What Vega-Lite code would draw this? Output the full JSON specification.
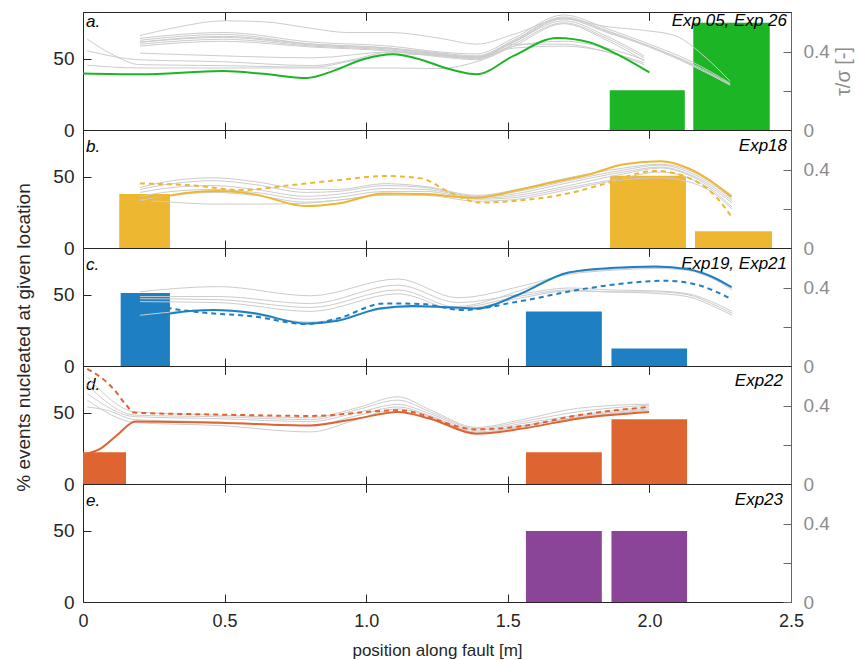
{
"$schema": "https://vega.github.io/schema/vega-lite/v6.json",
"padding": {"left": 14, "top": 11, "right": 3, "bottom": 5},
"bounds": "flush",
"spacing": 0,
"config": {
  "view": {"stroke": "#262626", "strokeWidth": 1},
  "font": "Liberation Sans",
  "axis": {"grid": false, "labelFont": "Liberation Sans", "titleFont": "Liberation Sans", "titleFontWeight": "normal", "tickColor": "#262626", "domainColor": "#262626", "labelColor": "#262626", "titleColor": "#262626", "labelFlush": false}
},
"datasets": {
  "bars": [
    {"p": "a", "x0": 1.86, "x1": 2.125, "pct": 28},
    {"p": "a", "x0": 2.155, "x1": 2.425, "pct": 75.5},
    {"p": "b", "x0": 0.128, "x1": 0.307, "pct": 38},
    {"p": "b", "x0": 1.861, "x1": 2.129, "pct": 50.8},
    {"p": "b", "x0": 2.161, "x1": 2.433, "pct": 11.8},
    {"p": "c", "x0": 0.133, "x1": 0.307, "pct": 51.3},
    {"p": "c", "x0": 1.564, "x1": 1.832, "pct": 38.3},
    {"p": "c", "x0": 1.866, "x1": 2.133, "pct": 12.3},
    {"p": "d", "x0": 0.0, "x1": 0.152, "pct": 22.4},
    {"p": "d", "x0": 1.564, "x1": 1.832, "pct": 22.4},
    {"p": "d", "x0": 1.866, "x1": 2.133, "pct": 45.6},
    {"p": "e", "x0": 1.564, "x1": 1.832, "pct": 50},
    {"p": "e", "x0": 1.866, "x1": 2.133, "pct": 50}
  ],
  "lines": [
    {"p":"a","s":"a-s","k":"s","x":0.0,"v":0.29},{"p":"a","s":"a-s","k":"s","x":0.2,"v":0.286},{"p":"a","s":"a-s","k":"s","x":0.495,"v":0.302},{"p":"a","s":"a-s","k":"s","x":0.637,"v":0.288},{"p":"a","s":"a-s","k":"s","x":0.79,"v":0.267},{"p":"a","s":"a-s","k":"s","x":0.884,"v":0.303},{"p":"a","s":"a-s","k":"s","x":0.99,"v":0.363},{"p":"a","s":"a-s","k":"s","x":1.096,"v":0.389},{"p":"a","s":"a-s","k":"s","x":1.178,"v":0.367},{"p":"a","s":"a-s","k":"s","x":1.3,"v":0.31},{"p":"a","s":"a-s","k":"s","x":1.39,"v":0.286},{"p":"a","s":"a-s","k":"s","x":1.52,"v":0.38},{"p":"a","s":"a-s","k":"s","x":1.673,"v":0.472},{"p":"a","s":"a-s","k":"s","x":1.79,"v":0.449},{"p":"a","s":"a-s","k":"s","x":1.885,"v":0.389},{"p":"a","s":"a-s","k":"s","x":2.0,"v":0.295},

    {"p":"a","s":"a-g1","k":"g","x":0.015,"v":0.466},{"p":"a","s":"a-g1","k":"g","x":0.1,"v":0.39},{"p":"a","s":"a-g1","k":"g","x":0.201,"v":0.335},{"p":"a","s":"a-g1","k":"g","x":0.495,"v":0.33},{"p":"a","s":"a-g1","k":"g","x":0.813,"v":0.322},{"p":"a","s":"a-g1","k":"g","x":0.95,"v":0.355},{"p":"a","s":"a-g1","k":"g","x":1.084,"v":0.39},{"p":"a","s":"a-g1","k":"g","x":1.225,"v":0.385},{"p":"a","s":"a-g1","k":"g","x":1.39,"v":0.37},{"p":"a","s":"a-g1","k":"g","x":1.52,"v":0.43},{"p":"a","s":"a-g1","k":"g","x":1.696,"v":0.455},{"p":"a","s":"a-g1","k":"g","x":1.85,"v":0.42},{"p":"a","s":"a-g1","k":"g","x":1.982,"v":0.36},
    {"p":"a","s":"a-g2","k":"g","x":0.015,"v":0.406},{"p":"a","s":"a-g2","k":"g","x":0.201,"v":0.36},{"p":"a","s":"a-g2","k":"g","x":0.495,"v":0.35},{"p":"a","s":"a-g2","k":"g","x":0.813,"v":0.33},{"p":"a","s":"a-g2","k":"g","x":0.95,"v":0.36},{"p":"a","s":"a-g2","k":"g","x":1.084,"v":0.4},{"p":"a","s":"a-g2","k":"g","x":1.225,"v":0.39},{"p":"a","s":"a-g2","k":"g","x":1.39,"v":0.375},{"p":"a","s":"a-g2","k":"g","x":1.52,"v":0.44},{"p":"a","s":"a-g2","k":"g","x":1.696,"v":0.44},{"p":"a","s":"a-g2","k":"g","x":1.85,"v":0.4},{"p":"a","s":"a-g2","k":"g","x":1.982,"v":0.345},
    {"p":"a","s":"a-g3","k":"g","x":0.015,"v":0.332},{"p":"a","s":"a-g3","k":"g","x":0.201,"v":0.318},{"p":"a","s":"a-g3","k":"g","x":0.495,"v":0.318},{"p":"a","s":"a-g3","k":"g","x":0.813,"v":0.318},{"p":"a","s":"a-g3","k":"g","x":1.084,"v":0.318},{"p":"a","s":"a-g3","k":"g","x":1.261,"v":0.315},{"p":"a","s":"a-g3","k":"g","x":1.39,"v":0.35},{"p":"a","s":"a-g3","k":"g","x":1.52,"v":0.42},{"p":"a","s":"a-g3","k":"g","x":1.696,"v":0.43},{"p":"a","s":"a-g3","k":"g","x":1.85,"v":0.4},{"p":"a","s":"a-g3","k":"g","x":1.982,"v":0.335},
    {"p":"a","s":"a-g4","k":"g","x":0.201,"v":0.484},{"p":"a","s":"a-g4","k":"g","x":0.343,"v":0.53},{"p":"a","s":"a-g4","k":"g","x":0.495,"v":0.56},{"p":"a","s":"a-g4","k":"g","x":0.637,"v":0.555},{"p":"a","s":"a-g4","k":"g","x":0.813,"v":0.52},{"p":"a","s":"a-g4","k":"g","x":0.931,"v":0.5},{"p":"a","s":"a-g4","k":"g","x":1.084,"v":0.5},{"p":"a","s":"a-g4","k":"g","x":1.261,"v":0.47},{"p":"a","s":"a-g4","k":"g","x":1.39,"v":0.44},{"p":"a","s":"a-g4","k":"g","x":1.52,"v":0.49},{"p":"a","s":"a-g4","k":"g","x":1.696,"v":0.57},{"p":"a","s":"a-g4","k":"g","x":1.85,"v":0.53},{"p":"a","s":"a-g4","k":"g","x":1.986,"v":0.51},{"p":"a","s":"a-g4","k":"g","x":2.09,"v":0.484},{"p":"a","s":"a-g4","k":"g","x":2.2,"v":0.37},{"p":"a","s":"a-g4","k":"g","x":2.285,"v":0.25},
    {"p":"a","s":"a-g5","k":"g","x":0.201,"v":0.47},{"p":"a","s":"a-g5","k":"g","x":0.495,"v":0.5},{"p":"a","s":"a-g5","k":"g","x":0.813,"v":0.45},{"p":"a","s":"a-g5","k":"g","x":1.084,"v":0.43},{"p":"a","s":"a-g5","k":"g","x":1.261,"v":0.4},{"p":"a","s":"a-g5","k":"g","x":1.39,"v":0.39},{"p":"a","s":"a-g5","k":"g","x":1.52,"v":0.47},{"p":"a","s":"a-g5","k":"g","x":1.696,"v":0.59},{"p":"a","s":"a-g5","k":"g","x":1.85,"v":0.52},{"p":"a","s":"a-g5","k":"g","x":2.0,"v":0.44},{"p":"a","s":"a-g5","k":"g","x":2.15,"v":0.35},{"p":"a","s":"a-g5","k":"g","x":2.285,"v":0.24},
    {"p":"a","s":"a-g6","k":"g","x":0.201,"v":0.46},{"p":"a","s":"a-g6","k":"g","x":0.495,"v":0.49},{"p":"a","s":"a-g6","k":"g","x":0.813,"v":0.44},{"p":"a","s":"a-g6","k":"g","x":1.084,"v":0.42},{"p":"a","s":"a-g6","k":"g","x":1.261,"v":0.395},{"p":"a","s":"a-g6","k":"g","x":1.39,"v":0.38},{"p":"a","s":"a-g6","k":"g","x":1.52,"v":0.46},{"p":"a","s":"a-g6","k":"g","x":1.696,"v":0.58},{"p":"a","s":"a-g6","k":"g","x":1.85,"v":0.51},{"p":"a","s":"a-g6","k":"g","x":2.0,"v":0.43},{"p":"a","s":"a-g6","k":"g","x":2.15,"v":0.34},{"p":"a","s":"a-g6","k":"g","x":2.285,"v":0.235},
    {"p":"a","s":"a-g7","k":"g","x":0.201,"v":0.45},{"p":"a","s":"a-g7","k":"g","x":0.495,"v":0.475},{"p":"a","s":"a-g7","k":"g","x":0.813,"v":0.435},{"p":"a","s":"a-g7","k":"g","x":1.084,"v":0.415},{"p":"a","s":"a-g7","k":"g","x":1.261,"v":0.39},{"p":"a","s":"a-g7","k":"g","x":1.39,"v":0.375},{"p":"a","s":"a-g7","k":"g","x":1.52,"v":0.45},{"p":"a","s":"a-g7","k":"g","x":1.696,"v":0.57},{"p":"a","s":"a-g7","k":"g","x":1.85,"v":0.5},{"p":"a","s":"a-g7","k":"g","x":2.0,"v":0.425},{"p":"a","s":"a-g7","k":"g","x":2.15,"v":0.33},{"p":"a","s":"a-g7","k":"g","x":2.285,"v":0.23},
    {"p":"a","s":"a-g8","k":"g","x":0.201,"v":0.44},{"p":"a","s":"a-g8","k":"g","x":0.495,"v":0.465},{"p":"a","s":"a-g8","k":"g","x":0.813,"v":0.43},{"p":"a","s":"a-g8","k":"g","x":1.084,"v":0.41},{"p":"a","s":"a-g8","k":"g","x":1.261,"v":0.385},{"p":"a","s":"a-g8","k":"g","x":1.39,"v":0.37},{"p":"a","s":"a-g8","k":"g","x":1.52,"v":0.45},{"p":"a","s":"a-g8","k":"g","x":1.696,"v":0.56},{"p":"a","s":"a-g8","k":"g","x":1.85,"v":0.48},{"p":"a","s":"a-g8","k":"g","x":1.982,"v":0.38},
    {"p":"a","s":"a-g9","k":"g","x":0.201,"v":0.43},{"p":"a","s":"a-g9","k":"g","x":0.495,"v":0.455},{"p":"a","s":"a-g9","k":"g","x":0.813,"v":0.425},{"p":"a","s":"a-g9","k":"g","x":1.084,"v":0.405},{"p":"a","s":"a-g9","k":"g","x":1.261,"v":0.38},{"p":"a","s":"a-g9","k":"g","x":1.39,"v":0.365},{"p":"a","s":"a-g9","k":"g","x":1.52,"v":0.44},{"p":"a","s":"a-g9","k":"g","x":1.696,"v":0.55},{"p":"a","s":"a-g9","k":"g","x":1.85,"v":0.47},{"p":"a","s":"a-g9","k":"g","x":1.982,"v":0.37},
    {"p":"a","s":"a-g10","k":"g","x":0.201,"v":0.394},{"p":"a","s":"a-g10","k":"g","x":0.495,"v":0.38},{"p":"a","s":"a-g10","k":"g","x":0.813,"v":0.37},{"p":"a","s":"a-g10","k":"g","x":1.084,"v":0.4},{"p":"a","s":"a-g10","k":"g","x":1.261,"v":0.375},{"p":"a","s":"a-g10","k":"g","x":1.39,"v":0.36},{"p":"a","s":"a-g10","k":"g","x":1.52,"v":0.43},{"p":"a","s":"a-g10","k":"g","x":1.696,"v":0.545},{"p":"a","s":"a-g10","k":"g","x":1.85,"v":0.46},{"p":"a","s":"a-g10","k":"g","x":1.982,"v":0.355},
    {"p":"a","s":"a-g11","k":"g","x":0.201,"v":0.45},{"p":"a","s":"a-g11","k":"g","x":0.495,"v":0.48},{"p":"a","s":"a-g11","k":"g","x":0.813,"v":0.44},{"p":"a","s":"a-g11","k":"g","x":1.084,"v":0.42},{"p":"a","s":"a-g11","k":"g","x":1.261,"v":0.39},{"p":"a","s":"a-g11","k":"g","x":1.39,"v":0.372},{"p":"a","s":"a-g11","k":"g","x":1.52,"v":0.455},{"p":"a","s":"a-g11","k":"g","x":1.696,"v":0.575},{"p":"a","s":"a-g11","k":"g","x":1.85,"v":0.505},{"p":"a","s":"a-g11","k":"g","x":2.0,"v":0.43},{"p":"a","s":"a-g11","k":"g","x":2.15,"v":0.335},{"p":"a","s":"a-g11","k":"g","x":2.285,"v":0.232},

    {"p":"b","s":"b-s","k":"s","x":0.201,"v":0.233},{"p":"b","s":"b-s","k":"s","x":0.314,"v":0.271},{"p":"b","s":"b-s","k":"s","x":0.477,"v":0.292},{"p":"b","s":"b-s","k":"s","x":0.607,"v":0.275},{"p":"b","s":"b-s","k":"s","x":0.785,"v":0.215},{"p":"b","s":"b-s","k":"s","x":0.9,"v":0.228},{"p":"b","s":"b-s","k":"s","x":1.063,"v":0.28},{"p":"b","s":"b-s","k":"s","x":1.21,"v":0.275},{"p":"b","s":"b-s","k":"s","x":1.388,"v":0.258},{"p":"b","s":"b-s","k":"s","x":1.535,"v":0.297},{"p":"b","s":"b-s","k":"s","x":1.68,"v":0.343},{"p":"b","s":"b-s","k":"s","x":1.78,"v":0.374},{"p":"b","s":"b-s","k":"s","x":1.91,"v":0.429},{"p":"b","s":"b-s","k":"s","x":2.04,"v":0.445},{"p":"b","s":"b-s","k":"s","x":2.137,"v":0.409},{"p":"b","s":"b-s","k":"s","x":2.217,"v":0.343},{"p":"b","s":"b-s","k":"s","x":2.29,"v":0.262},
    {"p":"b","s":"b-d","k":"d","x":0.201,"v":0.331},{"p":"b","s":"b-d","k":"d","x":0.395,"v":0.32},{"p":"b","s":"b-d","k":"d","x":0.559,"v":0.297},{"p":"b","s":"b-d","k":"d","x":0.722,"v":0.32},{"p":"b","s":"b-d","k":"d","x":0.9,"v":0.348},{"p":"b","s":"b-d","k":"d","x":1.063,"v":0.369},{"p":"b","s":"b-d","k":"d","x":1.194,"v":0.357},{"p":"b","s":"b-d","k":"d","x":1.29,"v":0.289},{"p":"b","s":"b-d","k":"d","x":1.4,"v":0.233},{"p":"b","s":"b-d","k":"d","x":1.55,"v":0.245},{"p":"b","s":"b-d","k":"d","x":1.714,"v":0.28},{"p":"b","s":"b-d","k":"d","x":1.828,"v":0.323},{"p":"b","s":"b-d","k":"d","x":2.023,"v":0.395},{"p":"b","s":"b-d","k":"d","x":2.137,"v":0.361},{"p":"b","s":"b-d","k":"d","x":2.235,"v":0.263},{"p":"b","s":"b-d","k":"d","x":2.29,"v":0.16},
    {"p":"b","s":"b-g1","k":"g","x":0.201,"v":0.31},{"p":"b","s":"b-g1","k":"g","x":0.315,"v":0.345},{"p":"b","s":"b-g1","k":"g","x":0.461,"v":0.36},{"p":"b","s":"b-g1","k":"g","x":0.608,"v":0.34},{"p":"b","s":"b-g1","k":"g","x":0.786,"v":0.3},{"p":"b","s":"b-g1","k":"g","x":0.9,"v":0.3},{"p":"b","s":"b-g1","k":"g","x":1.063,"v":0.33},{"p":"b","s":"b-g1","k":"g","x":1.21,"v":0.315},{"p":"b","s":"b-g1","k":"g","x":1.389,"v":0.27},{"p":"b","s":"b-g1","k":"g","x":1.535,"v":0.3},{"p":"b","s":"b-g1","k":"g","x":1.682,"v":0.35},{"p":"b","s":"b-g1","k":"g","x":1.909,"v":0.41},{"p":"b","s":"b-g1","k":"g","x":2.039,"v":0.43},{"p":"b","s":"b-g1","k":"g","x":2.137,"v":0.4},{"p":"b","s":"b-g1","k":"g","x":2.218,"v":0.34},{"p":"b","s":"b-g1","k":"g","x":2.292,"v":0.27},
    {"p":"b","s":"b-g2","k":"g","x":0.201,"v":0.3},{"p":"b","s":"b-g2","k":"g","x":0.315,"v":0.33},{"p":"b","s":"b-g2","k":"g","x":0.461,"v":0.345},{"p":"b","s":"b-g2","k":"g","x":0.608,"v":0.325},{"p":"b","s":"b-g2","k":"g","x":0.786,"v":0.285},{"p":"b","s":"b-g2","k":"g","x":0.9,"v":0.29},{"p":"b","s":"b-g2","k":"g","x":1.063,"v":0.32},{"p":"b","s":"b-g2","k":"g","x":1.21,"v":0.31},{"p":"b","s":"b-g2","k":"g","x":1.389,"v":0.265},{"p":"b","s":"b-g2","k":"g","x":1.535,"v":0.29},{"p":"b","s":"b-g2","k":"g","x":1.682,"v":0.335},{"p":"b","s":"b-g2","k":"g","x":1.909,"v":0.4},{"p":"b","s":"b-g2","k":"g","x":2.039,"v":0.425},{"p":"b","s":"b-g2","k":"g","x":2.137,"v":0.39},{"p":"b","s":"b-g2","k":"g","x":2.218,"v":0.33},{"p":"b","s":"b-g2","k":"g","x":2.292,"v":0.25},
    {"p":"b","s":"b-g3","k":"g","x":0.201,"v":0.285},{"p":"b","s":"b-g3","k":"g","x":0.315,"v":0.31},{"p":"b","s":"b-g3","k":"g","x":0.461,"v":0.32},{"p":"b","s":"b-g3","k":"g","x":0.608,"v":0.3},{"p":"b","s":"b-g3","k":"g","x":0.786,"v":0.265},{"p":"b","s":"b-g3","k":"g","x":0.9,"v":0.275},{"p":"b","s":"b-g3","k":"g","x":1.063,"v":0.305},{"p":"b","s":"b-g3","k":"g","x":1.21,"v":0.3},{"p":"b","s":"b-g3","k":"g","x":1.389,"v":0.262},{"p":"b","s":"b-g3","k":"g","x":1.535,"v":0.28},{"p":"b","s":"b-g3","k":"g","x":1.682,"v":0.325},{"p":"b","s":"b-g3","k":"g","x":1.909,"v":0.39},{"p":"b","s":"b-g3","k":"g","x":2.039,"v":0.415},{"p":"b","s":"b-g3","k":"g","x":2.137,"v":0.38},{"p":"b","s":"b-g3","k":"g","x":2.218,"v":0.32},{"p":"b","s":"b-g3","k":"g","x":2.292,"v":0.24},
    {"p":"b","s":"b-g4","k":"g","x":0.201,"v":0.265},{"p":"b","s":"b-g4","k":"g","x":0.315,"v":0.29},{"p":"b","s":"b-g4","k":"g","x":0.461,"v":0.3},{"p":"b","s":"b-g4","k":"g","x":0.608,"v":0.285},{"p":"b","s":"b-g4","k":"g","x":0.786,"v":0.25},{"p":"b","s":"b-g4","k":"g","x":0.9,"v":0.26},{"p":"b","s":"b-g4","k":"g","x":1.063,"v":0.29},{"p":"b","s":"b-g4","k":"g","x":1.21,"v":0.29},{"p":"b","s":"b-g4","k":"g","x":1.389,"v":0.255},{"p":"b","s":"b-g4","k":"g","x":1.535,"v":0.27},{"p":"b","s":"b-g4","k":"g","x":1.682,"v":0.31},{"p":"b","s":"b-g4","k":"g","x":1.909,"v":0.38},{"p":"b","s":"b-g4","k":"g","x":2.039,"v":0.41},{"p":"b","s":"b-g4","k":"g","x":2.137,"v":0.375},{"p":"b","s":"b-g4","k":"g","x":2.218,"v":0.31},{"p":"b","s":"b-g4","k":"g","x":2.292,"v":0.23},
    {"p":"b","s":"b-g5","k":"g","x":0.201,"v":0.245},{"p":"b","s":"b-g5","k":"g","x":0.315,"v":0.27},{"p":"b","s":"b-g5","k":"g","x":0.461,"v":0.285},{"p":"b","s":"b-g5","k":"g","x":0.608,"v":0.27},{"p":"b","s":"b-g5","k":"g","x":0.786,"v":0.235},{"p":"b","s":"b-g5","k":"g","x":0.9,"v":0.245},{"p":"b","s":"b-g5","k":"g","x":1.063,"v":0.275},{"p":"b","s":"b-g5","k":"g","x":1.21,"v":0.28},{"p":"b","s":"b-g5","k":"g","x":1.389,"v":0.25},{"p":"b","s":"b-g5","k":"g","x":1.535,"v":0.26},{"p":"b","s":"b-g5","k":"g","x":1.682,"v":0.3},{"p":"b","s":"b-g5","k":"g","x":1.909,"v":0.36},{"p":"b","s":"b-g5","k":"g","x":2.039,"v":0.39},{"p":"b","s":"b-g5","k":"g","x":2.137,"v":0.36},{"p":"b","s":"b-g5","k":"g","x":2.218,"v":0.3},{"p":"b","s":"b-g5","k":"g","x":2.292,"v":0.21},
    {"p":"b","s":"b-g6","k":"g","x":0.201,"v":0.245},{"p":"b","s":"b-g6","k":"g","x":0.315,"v":0.235},{"p":"b","s":"b-g6","k":"g","x":0.461,"v":0.225},{"p":"b","s":"b-g6","k":"g","x":0.608,"v":0.225},{"p":"b","s":"b-g6","k":"g","x":0.786,"v":0.23},{"p":"b","s":"b-g6","k":"g","x":0.9,"v":0.245},{"p":"b","s":"b-g6","k":"g","x":1.063,"v":0.27},{"p":"b","s":"b-g6","k":"g","x":1.21,"v":0.27},{"p":"b","s":"b-g6","k":"g","x":1.389,"v":0.24},{"p":"b","s":"b-g6","k":"g","x":1.535,"v":0.25},{"p":"b","s":"b-g6","k":"g","x":1.682,"v":0.29},{"p":"b","s":"b-g6","k":"g","x":1.909,"v":0.35},{"p":"b","s":"b-g6","k":"g","x":2.039,"v":0.36},{"p":"b","s":"b-g6","k":"g","x":2.137,"v":0.34},{"p":"b","s":"b-g6","k":"g","x":2.218,"v":0.29},{"p":"b","s":"b-g6","k":"g","x":2.292,"v":0.2},

    {"p":"c","s":"c-s","k":"s","x":0.201,"v":0.235},{"p":"c","s":"c-s","k":"s","x":0.314,"v":0.27},{"p":"c","s":"c-s","k":"s","x":0.461,"v":0.287},{"p":"c","s":"c-s","k":"s","x":0.607,"v":0.27},{"p":"c","s":"c-s","k":"s","x":0.787,"v":0.218},{"p":"c","s":"c-s","k":"s","x":0.9,"v":0.232},{"p":"c","s":"c-s","k":"s","x":1.047,"v":0.295},{"p":"c","s":"c-s","k":"s","x":1.161,"v":0.308},{"p":"c","s":"c-s","k":"s","x":1.291,"v":0.301},{"p":"c","s":"c-s","k":"s","x":1.389,"v":0.295},{"p":"c","s":"c-s","k":"s","x":1.535,"v":0.364},{"p":"c","s":"c-s","k":"s","x":1.714,"v":0.479},{"p":"c","s":"c-s","k":"s","x":1.861,"v":0.502},{"p":"c","s":"c-s","k":"s","x":2.023,"v":0.51},{"p":"c","s":"c-s","k":"s","x":2.137,"v":0.496},{"p":"c","s":"c-s","k":"s","x":2.219,"v":0.459},{"p":"c","s":"c-s","k":"s","x":2.29,"v":0.404},
    {"p":"c","s":"c-d","k":"d","x":0.201,"v":0.321},{"p":"c","s":"c-d","k":"d","x":0.395,"v":0.278},{"p":"c","s":"c-d","k":"d","x":0.607,"v":0.253},{"p":"c","s":"c-d","k":"d","x":0.787,"v":0.215},{"p":"c","s":"c-d","k":"d","x":0.9,"v":0.244},{"p":"c","s":"c-d","k":"d","x":1.063,"v":0.321},{"p":"c","s":"c-d","k":"d","x":1.194,"v":0.318},{"p":"c","s":"c-d","k":"d","x":1.34,"v":0.287},{"p":"c","s":"c-d","k":"d","x":1.535,"v":0.33},{"p":"c","s":"c-d","k":"d","x":1.78,"v":0.398},{"p":"c","s":"c-d","k":"d","x":1.942,"v":0.428},{"p":"c","s":"c-d","k":"d","x":2.056,"v":0.437},{"p":"c","s":"c-d","k":"d","x":2.17,"v":0.416},{"p":"c","s":"c-d","k":"d","x":2.29,"v":0.342},
    {"p":"c","s":"c-g1","k":"g","x":0.201,"v":0.381},{"p":"c","s":"c-g1","k":"g","x":0.478,"v":0.407},{"p":"c","s":"c-g1","k":"g","x":0.803,"v":0.36},{"p":"c","s":"c-g1","k":"g","x":1.112,"v":0.446},{"p":"c","s":"c-g1","k":"g","x":1.323,"v":0.35},{"p":"c","s":"c-g1","k":"g","x":1.55,"v":0.41},{"p":"c","s":"c-g1","k":"g","x":1.714,"v":0.47},{"p":"c","s":"c-g1","k":"g","x":1.861,"v":0.49},{"p":"c","s":"c-g1","k":"g","x":2.023,"v":0.5},{"p":"c","s":"c-g1","k":"g","x":2.137,"v":0.49},{"p":"c","s":"c-g1","k":"g","x":2.22,"v":0.45},{"p":"c","s":"c-g1","k":"g","x":2.292,"v":0.39},
    {"p":"c","s":"c-g2","k":"g","x":0.201,"v":0.356},{"p":"c","s":"c-g2","k":"g","x":0.478,"v":0.356},{"p":"c","s":"c-g2","k":"g","x":0.803,"v":0.32},{"p":"c","s":"c-g2","k":"g","x":1.112,"v":0.415},{"p":"c","s":"c-g2","k":"g","x":1.323,"v":0.325},{"p":"c","s":"c-g2","k":"g","x":1.55,"v":0.37},{"p":"c","s":"c-g2","k":"g","x":1.714,"v":0.4},{"p":"c","s":"c-g2","k":"g","x":1.861,"v":0.39},{"p":"c","s":"c-g2","k":"g","x":2.023,"v":0.385},{"p":"c","s":"c-g2","k":"g","x":2.137,"v":0.37},{"p":"c","s":"c-g2","k":"g","x":2.22,"v":0.33},{"p":"c","s":"c-g2","k":"g","x":2.292,"v":0.28},
    {"p":"c","s":"c-g3","k":"g","x":0.201,"v":0.345},{"p":"c","s":"c-g3","k":"g","x":0.478,"v":0.34},{"p":"c","s":"c-g3","k":"g","x":0.803,"v":0.3},{"p":"c","s":"c-g3","k":"g","x":1.112,"v":0.39},{"p":"c","s":"c-g3","k":"g","x":1.323,"v":0.3},{"p":"c","s":"c-g3","k":"g","x":1.55,"v":0.36},{"p":"c","s":"c-g3","k":"g","x":1.714,"v":0.39},{"p":"c","s":"c-g3","k":"g","x":1.861,"v":0.38},{"p":"c","s":"c-g3","k":"g","x":2.023,"v":0.38},{"p":"c","s":"c-g3","k":"g","x":2.137,"v":0.365},{"p":"c","s":"c-g3","k":"g","x":2.22,"v":0.32},{"p":"c","s":"c-g3","k":"g","x":2.292,"v":0.27},
    {"p":"c","s":"c-g4","k":"g","x":0.201,"v":0.33},{"p":"c","s":"c-g4","k":"g","x":0.478,"v":0.325},{"p":"c","s":"c-g4","k":"g","x":0.803,"v":0.28},{"p":"c","s":"c-g4","k":"g","x":1.112,"v":0.37},{"p":"c","s":"c-g4","k":"g","x":1.323,"v":0.29},{"p":"c","s":"c-g4","k":"g","x":1.55,"v":0.35},{"p":"c","s":"c-g4","k":"g","x":1.714,"v":0.385},{"p":"c","s":"c-g4","k":"g","x":1.861,"v":0.38},{"p":"c","s":"c-g4","k":"g","x":2.023,"v":0.372},{"p":"c","s":"c-g4","k":"g","x":2.137,"v":0.355},{"p":"c","s":"c-g4","k":"g","x":2.22,"v":0.31},{"p":"c","s":"c-g4","k":"g","x":2.292,"v":0.26},
    {"p":"c","s":"c-g5","k":"g","x":0.201,"v":0.26},{"p":"c","s":"c-g5","k":"g","x":0.35,"v":0.28},{"p":"c","s":"c-g5","k":"g","x":0.478,"v":0.285},{"p":"c","s":"c-g5","k":"g","x":0.803,"v":0.225},{"p":"c","s":"c-g5","k":"g","x":1.112,"v":0.3},{"p":"c","s":"c-g5","k":"g","x":1.323,"v":0.305},{"p":"c","s":"c-g5","k":"g","x":1.55,"v":0.39},{"p":"c","s":"c-g5","k":"g","x":1.714,"v":0.475},{"p":"c","s":"c-g5","k":"g","x":1.861,"v":0.495},{"p":"c","s":"c-g5","k":"g","x":2.023,"v":0.505},{"p":"c","s":"c-g5","k":"g","x":2.137,"v":0.495},{"p":"c","s":"c-g5","k":"g","x":2.22,"v":0.455},{"p":"c","s":"c-g5","k":"g","x":2.292,"v":0.4},

    {"p":"d","s":"d-s","k":"s","x":0.015,"v":0.155},{"p":"d","s":"d-s","k":"s","x":0.06,"v":0.18},{"p":"d","s":"d-s","k":"s","x":0.12,"v":0.25},{"p":"d","s":"d-s","k":"s","x":0.185,"v":0.321},{"p":"d","s":"d-s","k":"s","x":0.477,"v":0.314},{"p":"d","s":"d-s","k":"s","x":0.803,"v":0.3},{"p":"d","s":"d-s","k":"s","x":0.966,"v":0.335},{"p":"d","s":"d-s","k":"s","x":1.112,"v":0.369},{"p":"d","s":"d-s","k":"s","x":1.226,"v":0.335},{"p":"d","s":"d-s","k":"s","x":1.389,"v":0.258},{"p":"d","s":"d-s","k":"s","x":1.551,"v":0.284},{"p":"d","s":"d-s","k":"s","x":1.746,"v":0.335},{"p":"d","s":"d-s","k":"s","x":1.999,"v":0.369},
    {"p":"d","s":"d-d","k":"d","x":0.015,"v":0.59},{"p":"d","s":"d-d","k":"d","x":0.06,"v":0.55},{"p":"d","s":"d-d","k":"d","x":0.106,"v":0.49},{"p":"d","s":"d-d","k":"d","x":0.15,"v":0.41},{"p":"d","s":"d-d","k":"d","x":0.18,"v":0.366},{"p":"d","s":"d-d","k":"d","x":0.478,"v":0.356},{"p":"d","s":"d-d","k":"d","x":0.803,"v":0.349},{"p":"d","s":"d-d","k":"d","x":1.112,"v":0.378},{"p":"d","s":"d-d","k":"d","x":1.389,"v":0.28},{"p":"d","s":"d-d","k":"d","x":1.551,"v":0.297},{"p":"d","s":"d-d","k":"d","x":1.746,"v":0.352},{"p":"d","s":"d-d","k":"d","x":1.999,"v":0.395},
    {"p":"d","s":"d-g1","k":"g","x":0.015,"v":0.55},{"p":"d","s":"d-g1","k":"g","x":0.185,"v":0.37},{"p":"d","s":"d-g1","k":"g","x":0.478,"v":0.353},{"p":"d","s":"d-g1","k":"g","x":0.803,"v":0.34},{"p":"d","s":"d-g1","k":"g","x":0.966,"v":0.39},{"p":"d","s":"d-g1","k":"g","x":1.112,"v":0.447},{"p":"d","s":"d-g1","k":"g","x":1.226,"v":0.38},{"p":"d","s":"d-g1","k":"g","x":1.389,"v":0.29},{"p":"d","s":"d-g1","k":"g","x":1.551,"v":0.33},{"p":"d","s":"d-g1","k":"g","x":1.746,"v":0.388},{"p":"d","s":"d-g1","k":"g","x":1.999,"v":0.41},
    {"p":"d","s":"d-g2","k":"g","x":0.015,"v":0.507},{"p":"d","s":"d-g2","k":"g","x":0.185,"v":0.353},{"p":"d","s":"d-g2","k":"g","x":0.478,"v":0.345},{"p":"d","s":"d-g2","k":"g","x":0.803,"v":0.33},{"p":"d","s":"d-g2","k":"g","x":0.966,"v":0.38},{"p":"d","s":"d-g2","k":"g","x":1.112,"v":0.43},{"p":"d","s":"d-g2","k":"g","x":1.226,"v":0.37},{"p":"d","s":"d-g2","k":"g","x":1.389,"v":0.284},{"p":"d","s":"d-g2","k":"g","x":1.551,"v":0.32},{"p":"d","s":"d-g2","k":"g","x":1.746,"v":0.37},{"p":"d","s":"d-g2","k":"g","x":1.999,"v":0.404},
    {"p":"d","s":"d-g3","k":"g","x":0.015,"v":0.464},{"p":"d","s":"d-g3","k":"g","x":0.185,"v":0.345},{"p":"d","s":"d-g3","k":"g","x":0.478,"v":0.335},{"p":"d","s":"d-g3","k":"g","x":0.803,"v":0.32},{"p":"d","s":"d-g3","k":"g","x":0.966,"v":0.365},{"p":"d","s":"d-g3","k":"g","x":1.112,"v":0.408},{"p":"d","s":"d-g3","k":"g","x":1.226,"v":0.36},{"p":"d","s":"d-g3","k":"g","x":1.389,"v":0.276},{"p":"d","s":"d-g3","k":"g","x":1.551,"v":0.31},{"p":"d","s":"d-g3","k":"g","x":1.746,"v":0.353},{"p":"d","s":"d-g3","k":"g","x":1.999,"v":0.395},
    {"p":"d","s":"d-g4","k":"g","x":0.015,"v":0.395},{"p":"d","s":"d-g4","k":"g","x":0.08,"v":0.38},{"p":"d","s":"d-g4","k":"g","x":0.185,"v":0.33},{"p":"d","s":"d-g4","k":"g","x":0.478,"v":0.318},{"p":"d","s":"d-g4","k":"g","x":0.803,"v":0.3},{"p":"d","s":"d-g4","k":"g","x":0.966,"v":0.35},{"p":"d","s":"d-g4","k":"g","x":1.112,"v":0.395},{"p":"d","s":"d-g4","k":"g","x":1.226,"v":0.35},{"p":"d","s":"d-g4","k":"g","x":1.389,"v":0.267},{"p":"d","s":"d-g4","k":"g","x":1.551,"v":0.3},{"p":"d","s":"d-g4","k":"g","x":1.746,"v":0.34},{"p":"d","s":"d-g4","k":"g","x":1.999,"v":0.38},
    {"p":"d","s":"d-g5","k":"g","x":0.015,"v":0.43},{"p":"d","s":"d-g5","k":"g","x":0.185,"v":0.315},{"p":"d","s":"d-g5","k":"g","x":0.478,"v":0.3},{"p":"d","s":"d-g5","k":"g","x":0.803,"v":0.267},{"p":"d","s":"d-g5","k":"g","x":0.966,"v":0.33},{"p":"d","s":"d-g5","k":"g","x":1.112,"v":0.385},{"p":"d","s":"d-g5","k":"g","x":1.226,"v":0.345},{"p":"d","s":"d-g5","k":"g","x":1.389,"v":0.262},{"p":"d","s":"d-g5","k":"g","x":1.551,"v":0.295},{"p":"d","s":"d-g5","k":"g","x":1.746,"v":0.345},{"p":"d","s":"d-g5","k":"g","x":1.999,"v":0.385}
  ]
},
"vconcat": [
  {
    "width": 708, "height": 118,
    "resolve": {"scale": {"y": "independent"}},
    "layer": [
      {"data": {"name": "bars"}, "transform": [{"filter": "datum.p == 'a'"}],
       "layer": [
        {"mark": {"type": "rect", "color": "#1bb526"},
         "encoding": {
           "x": {"field": "x0", "type": "quantitative", "scale": {"domain": [0, 2.5], "nice": false, "zero": false}, "axis": {"orient": "bottom", "values": [0, 0.5, 1, 1.5, 2, 2.5], "tickSize": -8, "labels": false, "domain": false, "title": null}},
           "x2": {"field": "x1"},
           "y": {"field": "pct", "type": "quantitative", "scale": {"domain": [0, 83], "nice": false}, "axis": {"orient": "left", "values": [0, 50], "tickSize": -8, "labelFontSize": 19, "labelPadding": 17, "domain": false, "title": null}},
           "y2": {"datum": 0}
         }},
        {"data": {"values": [{"t": "a."}]}, "mark": {"type": "text", "align": "left", "baseline": "top", "fontStyle": "italic", "fontSize": 17, "color": "#000000", "dx": 3, "dy": 2},
         "encoding": {"x": {"datum": 0, "type": "quantitative", "axis": {"orient": "top", "values": [0, 0.5, 1, 1.5, 2, 2.5], "tickSize": -8, "labels": false, "domain": false, "title": null}}, "y": {"datum": 83, "type": "quantitative", "axis": {"orient": "left", "values": [0, 50], "tickSize": -8, "labelFontSize": 19, "labelPadding": 17, "domain": false, "title": null}}, "text": {"field": "t"}}},
        {"data": {"values": [{"t": "Exp 05, Exp 26"}]}, "mark": {"type": "text", "align": "right", "baseline": "top", "fontStyle": "italic", "fontSize": 17, "color": "#000000", "dx": -4, "dy": 1},
         "encoding": {"x": {"datum": 2.5, "type": "quantitative", "axis": {"orient": "top", "values": [0, 0.5, 1, 1.5, 2, 2.5], "tickSize": -8, "labels": false, "domain": false, "title": null}}, "y": {"datum": 83, "type": "quantitative", "axis": {"orient": "left", "values": [0, 50], "tickSize": -8, "labelFontSize": 19, "labelPadding": 17, "domain": false, "title": null}}, "text": {"field": "t"}}}
       ]},
      {"data": {"name": "lines"}, "transform": [{"filter": "datum.p == 'a'"}],
       "layer": [
        {"transform": [{"filter": "datum.k == 'g'"}], "mark": {"type": "line", "color": "#cccccc", "strokeWidth": 1, "interpolate": "monotone", "clip": true},
         "encoding": {"x": {"field": "x", "type": "quantitative", "axis": {"orient": "top", "values": [0, 0.5, 1, 1.5, 2, 2.5], "tickSize": -8, "labels": false, "domain": false, "title": null}}, "y": {"field": "v", "type": "quantitative", "scale": {"domain": [0, 0.605], "nice": false}, "axis": {"orient": "right", "values": [0, 0.2, 0.4], "labelExpr": "datum.value == 0.2 ? '' : (datum.value == 0 ? '0' : format(datum.value, '.1f'))", "tickSize": -8, "labelFontSize": 19, "labelPadding": 20, "labelColor": "#8c8c8c", "tickColor": "#666666", "domainColor": "#666666", "title": "τ/σ [-]", "titleColor": "#8c8c8c", "titleFontSize": 20, "titleAngle": 270, "titlePadding": 24}}, "detail": {"field": "s"}}},
        {"transform": [{"filter": "datum.k == 's'"}], "mark": {"type": "line", "color": "#1bb526", "strokeWidth": 2, "interpolate": "monotone", "clip": true},
         "encoding": {"x": {"field": "x", "type": "quantitative", "axis": {"orient": "top", "values": [0, 0.5, 1, 1.5, 2, 2.5], "tickSize": -8, "labels": false, "domain": false, "title": null}}, "y": {"field": "v", "type": "quantitative", "axis": {"orient": "right", "values": [0, 0.2, 0.4], "labelExpr": "datum.value == 0.2 ? '' : (datum.value == 0 ? '0' : format(datum.value, '.1f'))", "tickSize": -8, "labelFontSize": 19, "labelPadding": 20, "labelColor": "#8c8c8c", "tickColor": "#666666", "domainColor": "#666666", "title": "τ/σ [-]", "titleColor": "#8c8c8c", "titleFontSize": 20, "titleAngle": 270, "titlePadding": 24}}}}
       ]}
    ]
  },
  {
    "width": 708, "height": 118,
    "resolve": {"scale": {"y": "independent"}},
    "layer": [
      {"data": {"name": "bars"}, "transform": [{"filter": "datum.p == 'b'"}],
       "layer": [
        {"mark": {"type": "rect", "color": "#edb732"},
         "encoding": {
           "x": {"field": "x0", "type": "quantitative", "scale": {"domain": [0, 2.5], "nice": false, "zero": false}, "axis": {"orient": "bottom", "values": [0, 0.5, 1, 1.5, 2, 2.5], "tickSize": -8, "labels": false, "domain": false, "title": null}},
           "x2": {"field": "x1"},
           "y": {"field": "pct", "type": "quantitative", "scale": {"domain": [0, 83], "nice": false}, "axis": {"orient": "left", "values": [0, 50], "tickSize": -8, "labelFontSize": 19, "labelPadding": 17, "domain": false, "title": null}},
           "y2": {"datum": 0}
         }},
        {"data": {"values": [{"t": "b."}]}, "mark": {"type": "text", "align": "left", "baseline": "top", "fontStyle": "italic", "fontSize": 17, "color": "#000000", "dx": 3, "dy": 9},
         "encoding": {"x": {"datum": 0, "type": "quantitative", "axis": {"orient": "top", "values": [0, 0.5, 1, 1.5, 2, 2.5], "tickSize": -8, "labels": false, "domain": false, "title": null}}, "y": {"datum": 83, "type": "quantitative", "axis": {"orient": "left", "values": [0, 50], "tickSize": -8, "labelFontSize": 19, "labelPadding": 17, "domain": false, "title": null}}, "text": {"field": "t"}}},
        {"data": {"values": [{"t": "Exp18"}]}, "mark": {"type": "text", "align": "right", "baseline": "top", "fontStyle": "italic", "fontSize": 17, "color": "#000000", "dx": -4, "dy": 8},
         "encoding": {"x": {"datum": 2.5, "type": "quantitative", "axis": {"orient": "top", "values": [0, 0.5, 1, 1.5, 2, 2.5], "tickSize": -8, "labels": false, "domain": false, "title": null}}, "y": {"datum": 83, "type": "quantitative", "axis": {"orient": "left", "values": [0, 50], "tickSize": -8, "labelFontSize": 19, "labelPadding": 17, "domain": false, "title": null}}, "text": {"field": "t"}}}
       ]},
      {"data": {"name": "lines"}, "transform": [{"filter": "datum.p == 'b'"}],
       "layer": [
        {"transform": [{"filter": "datum.k == 'g'"}], "mark": {"type": "line", "color": "#cccccc", "strokeWidth": 1, "interpolate": "monotone", "clip": true},
         "encoding": {"x": {"field": "x", "type": "quantitative", "axis": {"orient": "top", "values": [0, 0.5, 1, 1.5, 2, 2.5], "tickSize": -8, "labels": false, "domain": false, "title": null}}, "y": {"field": "v", "type": "quantitative", "scale": {"domain": [0, 0.605], "nice": false}, "axis": {"orient": "right", "values": [0, 0.2, 0.4], "labelExpr": "datum.value == 0.2 ? '' : (datum.value == 0 ? '0' : format(datum.value, '.1f'))", "tickSize": -8, "labelFontSize": 19, "labelPadding": 20, "labelColor": "#8c8c8c", "tickColor": "#666666", "domainColor": "#666666", "title": null}}, "detail": {"field": "s"}}},
        {"transform": [{"filter": "datum.k == 's'"}], "mark": {"type": "line", "color": "#edb732", "strokeWidth": 2, "interpolate": "monotone", "clip": true},
         "encoding": {"x": {"field": "x", "type": "quantitative", "axis": {"orient": "top", "values": [0, 0.5, 1, 1.5, 2, 2.5], "tickSize": -8, "labels": false, "domain": false, "title": null}}, "y": {"field": "v", "type": "quantitative", "axis": {"orient": "right", "values": [0, 0.2, 0.4], "labelExpr": "datum.value == 0.2 ? '' : (datum.value == 0 ? '0' : format(datum.value, '.1f'))", "tickSize": -8, "labelFontSize": 19, "labelPadding": 20, "labelColor": "#8c8c8c", "tickColor": "#666666", "domainColor": "#666666", "title": null}}}},
        {"transform": [{"filter": "datum.k == 'd'"}], "mark": {"type": "line", "color": "#edb732", "strokeWidth": 2, "strokeDash": [5, 4], "interpolate": "monotone", "clip": true},
         "encoding": {"x": {"field": "x", "type": "quantitative", "axis": {"orient": "top", "values": [0, 0.5, 1, 1.5, 2, 2.5], "tickSize": -8, "labels": false, "domain": false, "title": null}}, "y": {"field": "v", "type": "quantitative", "axis": {"orient": "right", "values": [0, 0.2, 0.4], "labelExpr": "datum.value == 0.2 ? '' : (datum.value == 0 ? '0' : format(datum.value, '.1f'))", "tickSize": -8, "labelFontSize": 19, "labelPadding": 20, "labelColor": "#8c8c8c", "tickColor": "#666666", "domainColor": "#666666", "title": null}}}}
       ]}
    ]
  },
  {
    "width": 708, "height": 118,
    "resolve": {"scale": {"y": "independent"}},
    "layer": [
      {"data": {"name": "bars"}, "transform": [{"filter": "datum.p == 'c'"}],
       "layer": [
        {"mark": {"type": "rect", "color": "#1e7fc3"},
         "encoding": {
           "x": {"field": "x0", "type": "quantitative", "scale": {"domain": [0, 2.5], "nice": false, "zero": false}, "axis": {"orient": "bottom", "values": [0, 0.5, 1, 1.5, 2, 2.5], "tickSize": -8, "labels": false, "domain": false, "title": null}},
           "x2": {"field": "x1"},
           "y": {"field": "pct", "type": "quantitative", "scale": {"domain": [0, 83], "nice": false}, "axis": {"orient": "left", "values": [0, 50], "tickSize": -8, "labelFontSize": 19, "labelPadding": 17, "domain": false, "title": "% events nucleated at given location", "titleFontSize": 19, "titlePadding": 19, "titleY": 89}},
           "y2": {"datum": 0}
         }},
        {"data": {"values": [{"t": "c."}]}, "mark": {"type": "text", "align": "left", "baseline": "top", "fontStyle": "italic", "fontSize": 17, "color": "#000000", "dx": 3, "dy": 9},
         "encoding": {"x": {"datum": 0, "type": "quantitative", "axis": {"orient": "top", "values": [0, 0.5, 1, 1.5, 2, 2.5], "tickSize": -8, "labels": false, "domain": false, "title": null}}, "y": {"datum": 83, "type": "quantitative", "axis": {"orient": "left", "values": [0, 50], "tickSize": -8, "labelFontSize": 19, "labelPadding": 17, "domain": false, "title": "% events nucleated at given location", "titleFontSize": 19, "titlePadding": 19, "titleY": 89}}, "text": {"field": "t"}}},
        {"data": {"values": [{"t": "Exp19, Exp21"}]}, "mark": {"type": "text", "align": "right", "baseline": "top", "fontStyle": "italic", "fontSize": 17, "color": "#000000", "dx": -4, "dy": 8},
         "encoding": {"x": {"datum": 2.5, "type": "quantitative", "axis": {"orient": "top", "values": [0, 0.5, 1, 1.5, 2, 2.5], "tickSize": -8, "labels": false, "domain": false, "title": null}}, "y": {"datum": 83, "type": "quantitative", "axis": {"orient": "left", "values": [0, 50], "tickSize": -8, "labelFontSize": 19, "labelPadding": 17, "domain": false, "title": "% events nucleated at given location", "titleFontSize": 19, "titlePadding": 19, "titleY": 89}}, "text": {"field": "t"}}}
       ]},
      {"data": {"name": "lines"}, "transform": [{"filter": "datum.p == 'c'"}],
       "layer": [
        {"transform": [{"filter": "datum.k == 'g'"}], "mark": {"type": "line", "color": "#cccccc", "strokeWidth": 1, "interpolate": "monotone", "clip": true},
         "encoding": {"x": {"field": "x", "type": "quantitative", "axis": {"orient": "top", "values": [0, 0.5, 1, 1.5, 2, 2.5], "tickSize": -8, "labels": false, "domain": false, "title": null}}, "y": {"field": "v", "type": "quantitative", "scale": {"domain": [0, 0.605], "nice": false}, "axis": {"orient": "right", "values": [0, 0.2, 0.4], "labelExpr": "datum.value == 0.2 ? '' : (datum.value == 0 ? '0' : format(datum.value, '.1f'))", "tickSize": -8, "labelFontSize": 19, "labelPadding": 20, "labelColor": "#8c8c8c", "tickColor": "#666666", "domainColor": "#666666", "title": null}}, "detail": {"field": "s"}}},
        {"transform": [{"filter": "datum.k == 's'"}], "mark": {"type": "line", "color": "#1e7fc3", "strokeWidth": 2, "interpolate": "monotone", "clip": true},
         "encoding": {"x": {"field": "x", "type": "quantitative", "axis": {"orient": "top", "values": [0, 0.5, 1, 1.5, 2, 2.5], "tickSize": -8, "labels": false, "domain": false, "title": null}}, "y": {"field": "v", "type": "quantitative", "axis": {"orient": "right", "values": [0, 0.2, 0.4], "labelExpr": "datum.value == 0.2 ? '' : (datum.value == 0 ? '0' : format(datum.value, '.1f'))", "tickSize": -8, "labelFontSize": 19, "labelPadding": 20, "labelColor": "#8c8c8c", "tickColor": "#666666", "domainColor": "#666666", "title": null}}}},
        {"transform": [{"filter": "datum.k == 'd'"}], "mark": {"type": "line", "color": "#1e7fc3", "strokeWidth": 2, "strokeDash": [5, 4], "interpolate": "monotone", "clip": true},
         "encoding": {"x": {"field": "x", "type": "quantitative", "axis": {"orient": "top", "values": [0, 0.5, 1, 1.5, 2, 2.5], "tickSize": -8, "labels": false, "domain": false, "title": null}}, "y": {"field": "v", "type": "quantitative", "axis": {"orient": "right", "values": [0, 0.2, 0.4], "labelExpr": "datum.value == 0.2 ? '' : (datum.value == 0 ? '0' : format(datum.value, '.1f'))", "tickSize": -8, "labelFontSize": 19, "labelPadding": 20, "labelColor": "#8c8c8c", "tickColor": "#666666", "domainColor": "#666666", "title": null}}}}
       ]}
    ]
  },
  {
    "width": 708, "height": 118,
    "resolve": {"scale": {"y": "independent"}},
    "layer": [
      {"data": {"name": "bars"}, "transform": [{"filter": "datum.p == 'd'"}],
       "layer": [
        {"mark": {"type": "rect", "color": "#de6431"},
         "encoding": {
           "x": {"field": "x0", "type": "quantitative", "scale": {"domain": [0, 2.5], "nice": false, "zero": false}, "axis": {"orient": "bottom", "values": [0, 0.5, 1, 1.5, 2, 2.5], "tickSize": -8, "labels": false, "domain": false, "title": null}},
           "x2": {"field": "x1"},
           "y": {"field": "pct", "type": "quantitative", "scale": {"domain": [0, 83], "nice": false}, "axis": {"orient": "left", "values": [0, 50], "tickSize": -8, "labelFontSize": 19, "labelPadding": 17, "domain": false, "title": null}},
           "y2": {"datum": 0}
         }},
        {"data": {"values": [{"t": "d."}]}, "mark": {"type": "text", "align": "left", "baseline": "top", "fontStyle": "italic", "fontSize": 17, "color": "#000000", "dx": 3, "dy": 11},
         "encoding": {"x": {"datum": 0, "type": "quantitative", "axis": {"orient": "top", "values": [0, 0.5, 1, 1.5, 2, 2.5], "tickSize": -8, "labels": false, "domain": false, "title": null}}, "y": {"datum": 83, "type": "quantitative", "axis": {"orient": "left", "values": [0, 50], "tickSize": -8, "labelFontSize": 19, "labelPadding": 17, "domain": false, "title": null}}, "text": {"field": "t"}}},
        {"data": {"values": [{"t": "Exp22"}]}, "mark": {"type": "text", "align": "right", "baseline": "top", "fontStyle": "italic", "fontSize": 17, "color": "#000000", "dx": -8, "dy": 7},
         "encoding": {"x": {"datum": 2.5, "type": "quantitative", "axis": {"orient": "top", "values": [0, 0.5, 1, 1.5, 2, 2.5], "tickSize": -8, "labels": false, "domain": false, "title": null}}, "y": {"datum": 83, "type": "quantitative", "axis": {"orient": "left", "values": [0, 50], "tickSize": -8, "labelFontSize": 19, "labelPadding": 17, "domain": false, "title": null}}, "text": {"field": "t"}}}
       ]},
      {"data": {"name": "lines"}, "transform": [{"filter": "datum.p == 'd'"}],
       "layer": [
        {"transform": [{"filter": "datum.k == 'g'"}], "mark": {"type": "line", "color": "#cccccc", "strokeWidth": 1, "interpolate": "monotone", "clip": true},
         "encoding": {"x": {"field": "x", "type": "quantitative", "axis": {"orient": "top", "values": [0, 0.5, 1, 1.5, 2, 2.5], "tickSize": -8, "labels": false, "domain": false, "title": null}}, "y": {"field": "v", "type": "quantitative", "scale": {"domain": [0, 0.605], "nice": false}, "axis": {"orient": "right", "values": [0, 0.2, 0.4], "labelExpr": "datum.value == 0.2 ? '' : (datum.value == 0 ? '0' : format(datum.value, '.1f'))", "tickSize": -8, "labelFontSize": 19, "labelPadding": 20, "labelColor": "#8c8c8c", "tickColor": "#666666", "domainColor": "#666666", "title": null}}, "detail": {"field": "s"}}},
        {"transform": [{"filter": "datum.k == 's'"}], "mark": {"type": "line", "color": "#de6431", "strokeWidth": 2, "interpolate": "monotone", "clip": true},
         "encoding": {"x": {"field": "x", "type": "quantitative", "axis": {"orient": "top", "values": [0, 0.5, 1, 1.5, 2, 2.5], "tickSize": -8, "labels": false, "domain": false, "title": null}}, "y": {"field": "v", "type": "quantitative", "axis": {"orient": "right", "values": [0, 0.2, 0.4], "labelExpr": "datum.value == 0.2 ? '' : (datum.value == 0 ? '0' : format(datum.value, '.1f'))", "tickSize": -8, "labelFontSize": 19, "labelPadding": 20, "labelColor": "#8c8c8c", "tickColor": "#666666", "domainColor": "#666666", "title": null}}}},
        {"transform": [{"filter": "datum.k == 'd'"}], "mark": {"type": "line", "color": "#de6431", "strokeWidth": 2, "strokeDash": [5, 4], "interpolate": "monotone", "clip": true},
         "encoding": {"x": {"field": "x", "type": "quantitative", "axis": {"orient": "top", "values": [0, 0.5, 1, 1.5, 2, 2.5], "tickSize": -8, "labels": false, "domain": false, "title": null}}, "y": {"field": "v", "type": "quantitative", "axis": {"orient": "right", "values": [0, 0.2, 0.4], "labelExpr": "datum.value == 0.2 ? '' : (datum.value == 0 ? '0' : format(datum.value, '.1f'))", "tickSize": -8, "labelFontSize": 19, "labelPadding": 20, "labelColor": "#8c8c8c", "tickColor": "#666666", "domainColor": "#666666", "title": null}}}}
       ]}
    ]
  },
  {
    "width": 708, "height": 118,
    "resolve": {"scale": {"y": "independent"}},
    "layer": [
      {"data": {"name": "bars"}, "transform": [{"filter": "datum.p == 'e'"}],
       "layer": [
        {"mark": {"type": "rect", "color": "#8a4598"},
         "encoding": {
           "x": {"field": "x0", "type": "quantitative", "scale": {"domain": [0, 2.5], "nice": false, "zero": false}, "axis": {"orient": "bottom", "values": [0, 0.5, 1, 1.5, 2, 2.5], "tickSize": -8, "labelExpr": "datum.value == 0 ? '0' : format(datum.value, '.1f')", "labelFontSize": 18, "labelPadding": 18, "domain": false, "title": "position along fault [m]", "titleFontSize": 17, "titlePadding": 12}},
           "x2": {"field": "x1"},
           "y": {"field": "pct", "type": "quantitative", "scale": {"domain": [0, 83], "nice": false}, "axis": {"orient": "left", "values": [0, 50], "tickSize": -8, "labelFontSize": 19, "labelPadding": 17, "domain": false, "title": null}},
           "y2": {"datum": 0}
         }},
        {"data": {"values": [{"t": "e."}]}, "mark": {"type": "text", "align": "left", "baseline": "top", "fontStyle": "italic", "fontSize": 17, "color": "#000000", "dx": 3, "dy": 9},
         "encoding": {"x": {"datum": 0, "type": "quantitative", "axis": {"orient": "top", "values": [0, 0.5, 1, 1.5, 2, 2.5], "tickSize": -8, "labels": false, "domain": false, "title": null}}, "y": {"datum": 83, "type": "quantitative", "axis": {"orient": "left", "values": [0, 50], "tickSize": -8, "labelFontSize": 19, "labelPadding": 17, "domain": false, "title": null}}, "text": {"field": "t"}}},
        {"data": {"values": [{"t": "Exp23"}]}, "mark": {"type": "text", "align": "right", "baseline": "top", "fontStyle": "italic", "fontSize": 17, "color": "#000000", "dx": -8, "dy": 8},
         "encoding": {"x": {"datum": 2.5, "type": "quantitative", "axis": {"orient": "top", "values": [0, 0.5, 1, 1.5, 2, 2.5], "tickSize": -8, "labels": false, "domain": false, "title": null}}, "y": {"datum": 83, "type": "quantitative", "axis": {"orient": "left", "values": [0, 50], "tickSize": -8, "labelFontSize": 19, "labelPadding": 17, "domain": false, "title": null}}, "text": {"field": "t"}}}
       ]},
      {"data": {"name": "lines"}, "transform": [{"filter": "datum.p == 'e'"}],
       "layer": [
        {"mark": {"type": "line", "color": "#cccccc", "strokeWidth": 1, "clip": true},
         "encoding": {"x": {"field": "x", "type": "quantitative", "axis": {"orient": "top", "values": [0, 0.5, 1, 1.5, 2, 2.5], "tickSize": -8, "labels": false, "domain": false, "title": null}}, "y": {"field": "v", "type": "quantitative", "scale": {"domain": [0, 0.605], "nice": false}, "axis": {"orient": "right", "values": [0, 0.2, 0.4], "labelExpr": "datum.value == 0.2 ? '' : (datum.value == 0 ? '0' : format(datum.value, '.1f'))", "tickSize": -8, "labelFontSize": 19, "labelPadding": 20, "labelColor": "#8c8c8c", "tickColor": "#666666", "domainColor": "#666666", "title": null}}, "detail": {"field": "s"}}}
       ]}
    ]
  }
]
}
